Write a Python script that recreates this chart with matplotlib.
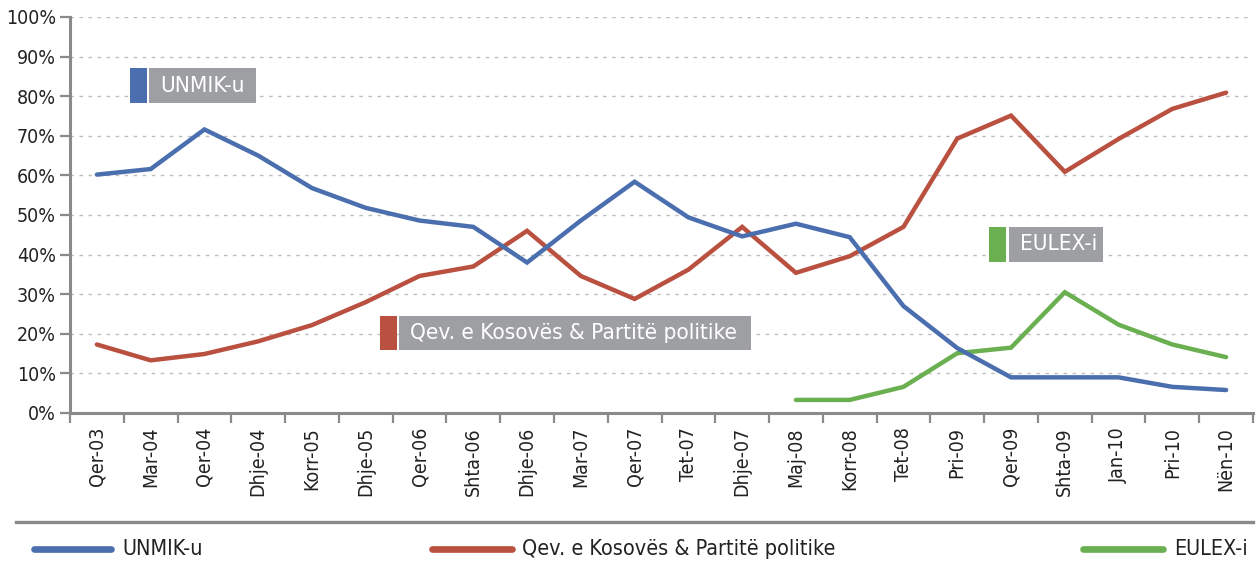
import matplotlib
matplotlib.use("Agg")
import matplotlib.pyplot as plt
from matplotlib.patches import Rectangle
from matplotlib.lines import Line2D
import numpy as np

plt.rcParams['font.family'] = ['DejaVu Sans']
plt.rcParams['font.stretch'] = 'condensed'

categories = ["Qer-03", "Mar-04", "Qer-04", "Dhje-04", "Korr-05", "Dhje-05", "Qer-06",
              "Shta-06", "Dhje-06", "Mar-07", "Qer-07", "Tet-07", "Dhje-07", "Maj-08",
              "Korr-08", "Tet-08", "Pri-09", "Qer-09", "Shta-09", "Jan-10", "Pri-10", "Nën-10"]

unmik = [60.2, 61.6, 71.6, 65.0, 56.8, 51.8, 48.6, 47.0, 38.0, 48.6, 58.4, 49.4,
         44.6, 47.8, 44.4, 27.0, 16.4, 9.0, 9.0, 9.0, 6.6, 5.8]
qev = [17.3, 13.3, 14.9, 18.1, 22.2, 28.0, 34.6, 37.0, 46.0, 34.6, 28.8, 36.2,
       47.0, 35.4, 39.6, 47.0, 69.3, 75.1, 60.9, 69.2, 76.8, 80.9]
eulex_cats = ["Maj-08", "Korr-08", "Tet-08", "Pri-09", "Qer-09", "Shta-09", "Jan-10", "Pri-10", "Nën-10"]
eulex = [3.3, 3.3, 6.6, 15.1, 16.5, 30.5, 22.3, 17.3, 14.1]

series_names = ["UNMIK-u", "Qev. e Kosovës & Partitë politike", "EULEX-i"]
colors = ["#4a6eae", "#b95040", "#6aaf50"]
label_gray = "#9e9fa3"
axis_gray = "#8a8a8a"

W, H = 1260, 564
fig = plt.figure(figsize=(12.6, 5.64), dpi=100)
ax = fig.add_axes([70 / W, 1 - 413 / H, (1253 - 70) / W, (413 - 17) / H])

x = np.arange(len(categories))
ex = [categories.index(c) for c in eulex_cats]

ax.plot(x, qev, color=colors[1], lw=3.2, solid_capstyle='round', solid_joinstyle='miter', zorder=3)
ax.plot(x, unmik, color=colors[0], lw=3.2, solid_capstyle='round', solid_joinstyle='miter', zorder=4)
ax.plot(ex, eulex, color=colors[2], lw=3.2, solid_capstyle='round', solid_joinstyle='miter', zorder=3)

ax.set_xlim(-0.5, len(categories) - 0.5)
ax.set_ylim(0, 100)
ax.set_yticks(np.arange(0, 101, 10))
ax.set_yticklabels([f"{v}%" for v in range(0, 101, 10)], fontsize=14, color="#222222")
ax.yaxis.grid(True, color="#bdbdbd", linestyle=(0, (2.5, 4)), linewidth=1.0)
ax.set_axisbelow(True)

ax.set_xticks(x)
ax.set_xticklabels(categories, rotation=90, fontsize=14, color="#222222")
ax.tick_params(axis='x', which='major', length=0, pad=10)
ax.set_xticks(np.arange(-0.5, len(categories) - 0.4, 1), minor=True)
ax.tick_params(axis='x', which='minor', length=7, width=1.6, color=axis_gray)
ax.tick_params(axis='y', length=7, width=1.6, color=axis_gray, pad=3)

for s in ['top', 'right']:
    ax.spines[s].set_visible(False)
for s in ['left', 'bottom']:
    ax.spines[s].set_color(axis_gray)
    ax.spines[s].set_linewidth(2.2)

def px2ax(px, py):
    return (px - 70) / 1183, (413 - py) / 396

def label_box(sq_x0, sq_x1, gx0, gx1, y0, y1, text, color):
    ax0, ay0 = px2ax(sq_x0, y1)
    ax1, ay1 = px2ax(sq_x1, y0)
    ax.add_patch(Rectangle((ax0, ay0), ax1 - ax0, ay1 - ay0, transform=ax.transAxes,
                           facecolor=color, edgecolor='none', zorder=5, clip_on=False))
    gx0a, _ = px2ax(gx0, y1)
    gx1a, _ = px2ax(gx1, y0)
    ax.add_patch(Rectangle((gx0a, ay0), gx1a - gx0a, ay1 - ay0, transform=ax.transAxes,
                           facecolor=label_gray, edgecolor='none', zorder=5, clip_on=False))
    tx, _ = px2ax(gx0 + 11, y0)
    ax.text(tx, (ay0 + ay1) / 2, text, transform=ax.transAxes, color='white',
            fontsize=16.2, va='center', ha='left', zorder=6)

label_box(130, 147, 149, 256, 68, 103, series_names[0], colors[0])
label_box(380, 397, 399, 751, 316, 350, series_names[1], colors[1])
label_box(989, 1006, 1009, 1103, 227, 262, series_names[2], colors[2])

# separator line
fig.add_artist(Line2D([16 / W, 1253 / W], [1 - 522 / H, 1 - 522 / H], color=axis_gray, lw=2.4))

# legend
ly = 1 - 549 / H
leg = [(34, 111, 122, series_names[0], colors[0]),
       (432, 512, 522, series_names[1], colors[1]),
       (1083, 1163, 1174, series_names[2], colors[2])]
for lx0, lx1, tx, name, c in leg:
    fig.add_artist(Line2D([lx0 / W, lx1 / W], [ly, ly], color=c, lw=4.8, solid_capstyle='round'))
    fig.text(tx / W, ly, name, fontsize=15.5, va='center', ha='left', color="#222222")

fig.savefig("out.png", dpi=100)
